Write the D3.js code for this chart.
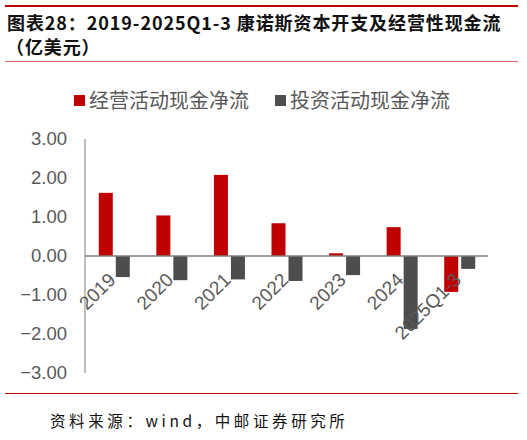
<!DOCTYPE html>
<html>
<head>
<meta charset="utf-8">
<script src="https://d3js.org/d3.v7.min.js"></script>
<style>
  body { margin: 0; background: #fff; }
</style>
</head>
<body>
<svg id="chart" width="527" height="440"></svg>
<script>
  // data
  var categories = ['2019', '2020', '2021', '2022', '2023', '2024', '2025Q1-3'];
  var operatingCF = [1.62, 1.04, 2.08, 0.84, 0.07, 0.74, -0.92];
  var investingCF = [-0.54, -0.62, -0.60, -0.64, -0.49, -1.87, -0.33];
  var seriesNames = ['经营活动现金净流', '投资活动现金净流'];
  var yTicks = [3, 2, 1, 0, -1, -2, -3];

  var colors = ['#C00000', '#4D4D4F'];
  var svg = d3.select('#chart');

  // header lines and title
  svg.append('line').attr('x1', 5).attr('x2', 518).attr('y1', 6).attr('y2', 6)
     .style('stroke', '#C00000').style('stroke-width', 2);
  svg.append('text').attr('x', 7).attr('y', 30)
     .style('font-family', '"Noto Sans CJK SC"').style('font-weight', 700)
     .style('font-size', '18px').style('fill', '#111')
     .style('letter-spacing', '0.9px')
     .text('图表28：2019-2025Q1-3 康诺斯资本开支及经营性现金流');
  svg.append('text').attr('x', 6).attr('y', 54)
     .style('font-family', '"Noto Sans CJK SC"').style('font-weight', 700)
     .style('font-size', '18px').style('fill', '#111')
     .style('letter-spacing', '0.9px')
     .text('（亿美元）');
  svg.append('line').attr('x1', 5).attr('x2', 518).attr('y1', 61.5).attr('y2', 61.5)
     .style('stroke', '#D9666B').style('stroke-width', 1);

  // scales
  var plotLeft = 85, plotRight = 488;
  var x = d3.scaleBand().domain(categories).range([plotLeft, plotRight]);
  var y = d3.scaleLinear().domain([-3, 3]).range([373, 139]);
  var barW = 14, gap = 2;

  // y axis labels
  svg.append('g').selectAll('text')
     .data(yTicks).enter().append('text')
     .attr('x', 67).attr('y', function (d) { return y(d); })
     .attr('dy', '0.35em').attr('text-anchor', 'end')
     .style('font-family', '"Liberation Sans", Arial').style('font-size', '18.5px')
     .style('fill', '#595959')
     .text(function (d) { return d3.format('.2f')(d); });

  svg.append('line').attr('x1', plotLeft).attr('x2', plotLeft)
     .attr('y1', y(3)).attr('y2', y(-3))
     .style('stroke', '#7F7F7F').style('stroke-width', 1);

  // bars
  var bars = svg.append('g');
  bars.selectAll('rect.op').data(operatingCF).enter().append('rect')
     .attr('class', 'op')
     .attr('x', function (d, i) { return x(categories[i]) + x.bandwidth() / 2 - barW - gap / 2; })
     .attr('y', function (d) { return y(Math.max(0, d)); })
     .attr('width', barW)
     .attr('height', function (d) { return Math.abs(y(d) - y(0)); })
     .style('fill', colors[0]);
  bars.selectAll('rect.inv').data(investingCF).enter().append('rect')
     .attr('class', 'inv')
     .attr('x', function (d, i) { return x(categories[i]) + x.bandwidth() / 2 + gap; })
     .attr('y', function (d) { return y(Math.max(0, d)); })
     .attr('width', barW)
     .attr('height', function (d) { return Math.abs(y(d) - y(0)); })
     .style('fill', colors[1]);

  // zero line
  svg.append('line').attr('x1', plotLeft).attr('x2', plotRight)
     .attr('y1', y(0)).attr('y2', y(0))
     .style('stroke', '#7F7F7F').style('stroke-width', 1.5);

  // category labels, rotated
  svg.append('g').selectAll('text')
     .data(categories).enter().append('text')
     .attr('text-anchor', 'end')
     .attr('transform', function (d) {
       return 'translate(' + (x(d) + x.bandwidth() / 2 + 3) + ',' + (y(0) + 25) + ')rotate(-45)';
     })
     .style('font-family', '"Liberation Sans", Arial').style('font-size', '19px')
     .style('fill', '#595959')
     .text(function (d) { return d; });

  // legend
  var legendX = [74, 275];
  var legend = svg.append('g').selectAll('g')
     .data(seriesNames).enter().append('g')
     .attr('transform', function (d, i) { return 'translate(' + legendX[i] + ',95)'; });
  legend.append('rect').attr('width', 11).attr('height', 11)
     .style('fill', function (d, i) { return colors[i]; });
  legend.append('text').attr('x', 15).attr('y', 5.5).attr('dy', '0.36em')
     .style('font-family', '"Noto Sans CJK SC"').style('font-size', '20px')
     .style('fill', '#595959')
     .text(function (d) { return d; });

  // footer
  svg.append('line').attr('x1', 5).attr('x2', 518).attr('y1', 393.5).attr('y2', 393.5)
     .style('stroke', '#C00000').style('stroke-width', 1);
  svg.append('text').attr('x', 50).attr('y', 427)
     .style('font-family', '"Noto Sans CJK SC"').style('font-size', '15.5px')
     .style('letter-spacing', '3.6px')
     .style('fill', '#111')
     .text('资料来源：wind，中邮证券研究所');
</script>
</body>
</html>
